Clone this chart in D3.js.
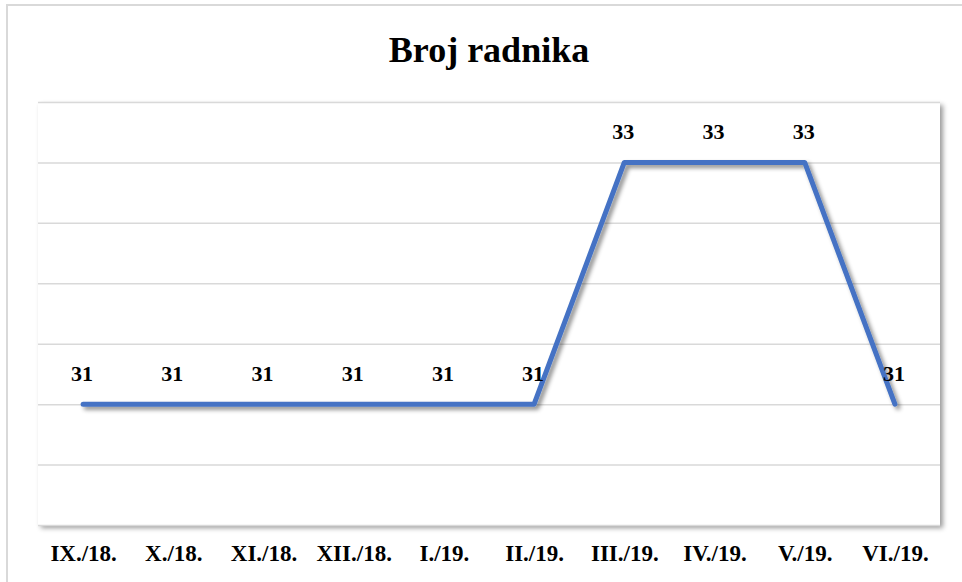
<!DOCTYPE html>
<html>
<head>
<meta charset="utf-8">
<script src="https://cdn.jsdelivr.net/npm/d3@7"></script>
<style>
  html, body { margin: 0; padding: 0; background: #fff; }
  svg { display: block; }
</style>
</head>
<body>
<svg id="chart" width="962" height="582"></svg>
<script>
const title = "Broj radnika";
const categories = ["IX./18.", "X./18.", "XI./18.", "XII./18.", "I./19.", "II./19.", "III./19.", "IV./19.", "V./19.", "VI./19."];
const values = [31, 31, 31, 31, 31, 31, 33, 33, 33, 31];
const yTicks = [30, 30.5, 31, 31.5, 32, 32.5, 33, 33.5];

const W = 962, H = 582;
const plot = { left: 38, right: 940, top: 102, bottom: 525 };
const serif = "'Liberation Serif', 'Times New Roman', serif";

const svg = d3.select("#chart");
const defs = svg.append("defs");

const fPlot = defs.append("filter").attr("id", "plotShadow")
  .attr("x", "-5%").attr("y", "-5%").attr("width", "115%").attr("height", "115%");
fPlot.append("feDropShadow").attr("dx", 3).attr("dy", 3).attr("stdDeviation", 2.5)
  .attr("flood-color", "#000").attr("flood-opacity", 0.4);

const fLine = defs.append("filter").attr("id", "lineShadow")
  .attr("x", "-10%").attr("y", "-10%").attr("width", "120%").attr("height", "130%");
fLine.append("feDropShadow").attr("dx", 3).attr("dy", 3).attr("stdDeviation", 2)
  .attr("flood-color", "#000").attr("flood-opacity", 0.45);

// outer chart border
svg.append("rect")
  .attr("x", 7).attr("y", 5).attr("width", W + 10).attr("height", H + 10)
  .attr("fill", "#fff").attr("stroke", "#d9d9d9").attr("stroke-width", 2);

// title
svg.append("text")
  .attr("x", 489).attr("y", 62)
  .attr("text-anchor", "middle")
  .attr("font-family", serif).attr("font-weight", "bold").attr("font-size", 36)
  .attr("fill", "#000")
  .text(title);

const x = d3.scalePoint().domain(categories).range([plot.left, plot.right]).padding(0.5);
const y = d3.scaleLinear().domain([30, 33.5]).range([plot.bottom, plot.top]);

// plot area with shadow
svg.append("rect")
  .attr("x", plot.left).attr("y", plot.top)
  .attr("width", plot.right - plot.left).attr("height", plot.bottom - plot.top)
  .attr("fill", "#fff").attr("filter", "url(#plotShadow)");

// gridlines
const yAxis = d3.axisLeft(y).tickValues(yTicks).tickSize(-(plot.right - plot.left)).tickFormat("");
const gy = svg.append("g").attr("transform", `translate(${plot.left},0)`).call(yAxis);
gy.select(".domain").remove();
gy.selectAll(".tick line").attr("stroke", "#d9d9d9").attr("stroke-width", 1.5);

// x axis labels
const xAxis = d3.axisBottom(x).tickSize(0).tickPadding(0);
const gx = svg.append("g").attr("transform", `translate(0,${plot.bottom})`).call(xAxis);
gx.select(".domain").remove();
gx.selectAll(".tick text")
  .attr("y", 36).attr("dy", 0)
  .attr("font-family", serif).attr("font-weight", "bold").attr("font-size", 23)
  .attr("fill", "#000");

// line
const line = d3.line().x((d, i) => x(categories[i])).y(d => y(d));
svg.append("path")
  .datum(values)
  .attr("d", line)
  .attr("fill", "none")
  .attr("stroke", "#4472C4")
  .attr("stroke-width", 5)
  .attr("stroke-linecap", "round")
  .attr("stroke-linejoin", "round")
  .attr("filter", "url(#lineShadow)");

// data labels
svg.append("g").selectAll("text")
  .data(values)
  .join("text")
  .attr("x", (d, i) => x(categories[i]) - 1)
  .attr("y", d => y(d) - 23)
  .attr("text-anchor", "middle")
  .attr("font-family", serif).attr("font-weight", "bold").attr("font-size", 22)
  .attr("fill", "#000")
  .text(d => d);
</script>
</body>
</html>
